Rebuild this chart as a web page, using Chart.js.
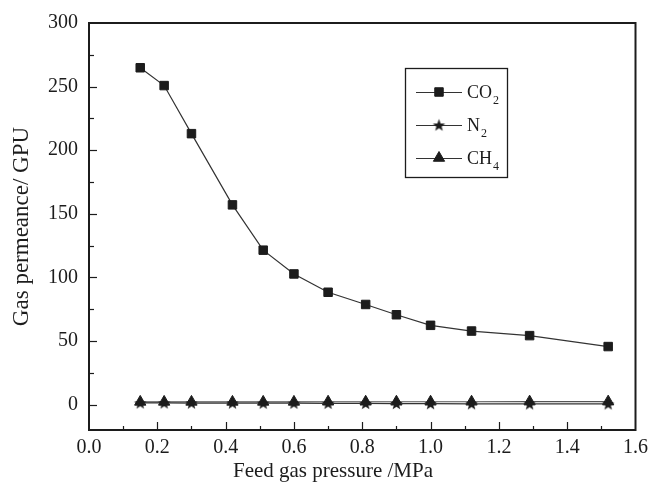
<!DOCTYPE html>
<html>
<head>
<meta charset="utf-8">
<script src="https://cdn.jsdelivr.net/npm/chart.js@4.4.1/dist/chart.umd.min.js"></script>
<style>
  html, body { margin: 0; padding: 0; background: #fff; }
  #wrap { width: 654px; height: 483px; }
</style>
</head>
<body>
<div id="wrap"><canvas id="chart" width="654" height="483"></canvas></div>
<script>
// feed pressure (MPa)
const pressure = [0.15, 0.22, 0.30, 0.42, 0.51, 0.60, 0.70, 0.81, 0.90, 1.00, 1.12, 1.29, 1.52];
// permeance (GPU)
const co2 = [264.8, 250.8, 213.0, 157.0, 121.4, 102.7, 88.3, 78.7, 70.6, 62.3, 57.8, 54.2, 45.6];
const n2 = [1.3, 1.3, 1.2, 1.2, 1.1, 1.1, 1.0, 0.9, 0.8, 0.7, 0.6, 0.5, 0.5];
const ch4 = [2.1, 2.1, 2.1, 2.1, 2.1, 2.1, 2.2, 2.2, 2.2, 2.2, 2.2, 2.3, 2.3];
const seriesNames = ['CO2', 'N2', 'CH4'];
const xTitle = 'Feed gas pressure /MPa';
const yTitle = 'Gas permeance/ GPU';

const FONT = '"Liberation Serif", "Times New Roman", serif';
const INK = '#1c1c1c';

// filled 5 point star for N2
function makeStar(r) {
  const c = document.createElement('canvas');
  const s = Math.ceil(r * 2 + 2);
  c.width = s; c.height = s;
  const g = c.getContext('2d');
  g.fillStyle = INK;
  g.beginPath();
  for (let i = 0; i < 10; i++) {
    const rr = i % 2 === 0 ? r : r * 0.42;
    const a = -Math.PI / 2 + i * Math.PI / 5;
    const px = s / 2 + rr * Math.cos(a);
    const py = s / 2 + 0.6 + rr * Math.sin(a);
    if (i === 0) g.moveTo(px, py); else g.lineTo(px, py);
  }
  g.closePath();
  g.fill();
  return c;
}
const starImg = makeStar(6.5);

const toXY = (ys) => ys.map((y, i) => ({ x: pressure[i], y: y }));

// inward ticks + frame + x title (sits left of centre in the original)
const frameTicks = {
  id: 'frameTicks',
  afterDraw(chart) {
    const { ctx, chartArea: a, scales } = chart;
    ctx.save();
    ctx.strokeStyle = INK;
    ctx.lineWidth = 1.2;
    const xs = scales.x, ys = scales.y;
    for (let i = 1; i <= 15; i++) {
      const v = i / 10;
      const px = Math.round(xs.getPixelForValue(v)) + 0.5;
      const len = i % 2 === 0 ? 8 : 4;
      ctx.beginPath();
      ctx.moveTo(px, a.bottom);
      ctx.lineTo(px, a.bottom - len);
      ctx.stroke();
    }
    for (let v = 0; v < 300; v += 25) {
      const py = Math.round(ys.getPixelForValue(v)) + 0.5;
      const len = v % 50 === 0 ? 8 : 5;
      ctx.beginPath();
      ctx.moveTo(a.left, py);
      ctx.lineTo(a.left + len, py);
      ctx.stroke();
    }
    ctx.lineWidth = 2;
    ctx.strokeRect(a.left, a.top, a.right - a.left, a.bottom - a.top);

    ctx.fillStyle = INK;
    ctx.font = '21px ' + FONT;
    ctx.textAlign = 'center';
    ctx.textBaseline = 'middle';
    ctx.fillText(xTitle, 333, 471);
    ctx.restore();
  }
};

// legend box with subscripts
const boxLegend = {
  id: 'boxLegend',
  afterDraw(chart) {
    const { ctx } = chart;
    const bx = 405, by = 68, bw = 102, bh = 109;
    const rows = [92, 125, 158];
    ctx.save();
    ctx.strokeStyle = INK;
    ctx.lineWidth = 1.3;
    ctx.strokeRect(bx + 0.5, by + 0.5, bw, bh);
    chart.data.datasets.forEach((ds, i) => {
      const y = rows[i];
      ctx.strokeStyle = '#333';
      ctx.lineWidth = 1.2;
      ctx.beginPath();
      ctx.moveTo(416, y + 0.5);
      ctx.lineTo(462, y + 0.5);
      ctx.stroke();
      ctx.fillStyle = INK;
      ctx.strokeStyle = INK;
      ctx.lineWidth = 1;
      Chart.helpers.drawPoint(ctx, {
        pointStyle: ds.pointStyle, radius: ds.pointRadius, rotation: 0, borderWidth: 1
      }, 439, y);
      const name = seriesNames[i];
      const main = name.replace(/\d+$/, '');
      const sub = name.slice(main.length);
      ctx.fillStyle = INK;
      ctx.textBaseline = 'alphabetic';
      ctx.textAlign = 'left';
      ctx.font = '18px ' + FONT;
      ctx.fillText(main, 467, y + 6);
      const w = ctx.measureText(main).width;
      ctx.font = '12px ' + FONT;
      ctx.fillText(sub, 467 + w + 1, y + 12);
    });
    ctx.restore();
  }
};

new Chart(document.getElementById('chart'), {
  type: 'line',
  data: {
    datasets: [
      {
        label: 'CO2', data: toXY(co2),
        borderColor: '#333', borderWidth: 1.2,
        pointStyle: 'rect', pointRadius: 6,
        pointBackgroundColor: INK, pointBorderColor: INK, pointBorderWidth: 1
      },
      {
        label: 'N2', data: toXY(n2),
        borderColor: '#333', borderWidth: 1.2,
        pointStyle: starImg, pointRadius: 6
      },
      {
        label: 'CH4', data: toXY(ch4),
        borderColor: '#555', borderWidth: 1.2,
        pointStyle: 'triangle', pointRadius: 6.5,
        pointBackgroundColor: INK, pointBorderColor: INK, pointBorderWidth: 1
      }
    ]
  },
  options: {
    responsive: false,
    animation: false,
    layout: { padding: { top: 21, right: 16, left: 0, bottom: 0 } },
    plugins: {
      legend: { display: false },
      tooltip: { enabled: false }
    },
    scales: {
      x: {
        type: 'linear', min: 0, max: 1.6,
        grid: { display: false, drawTicks: false },
        border: { display: false },
        ticks: {
          stepSize: 0.2, padding: 6, color: INK,
          font: { family: FONT, size: 20 },
          callback: v => v.toFixed(1)
        },
        afterFit: s => { s.height = 53; }
      },
      y: {
        type: 'linear', min: -20, max: 300,
        grid: { display: false, drawTicks: false },
        border: { display: false },
        afterBuildTicks: s => { s.ticks = s.ticks.filter(t => t.value >= 0 && t.value % 50 === 0); },
        ticks: {
          stepSize: 50, padding: 11, color: INK,
          font: { family: FONT, size: 20 }
        },
        afterFit: s => { s.width = 89; },
        title: {
          display: true, text: yTitle, color: INK,
          font: { family: FONT, size: 23 }, padding: { top: 8, bottom: 0 }
        }
      }
    }
  },
  plugins: [frameTicks, boxLegend]
});
</script>
</body>
</html>
